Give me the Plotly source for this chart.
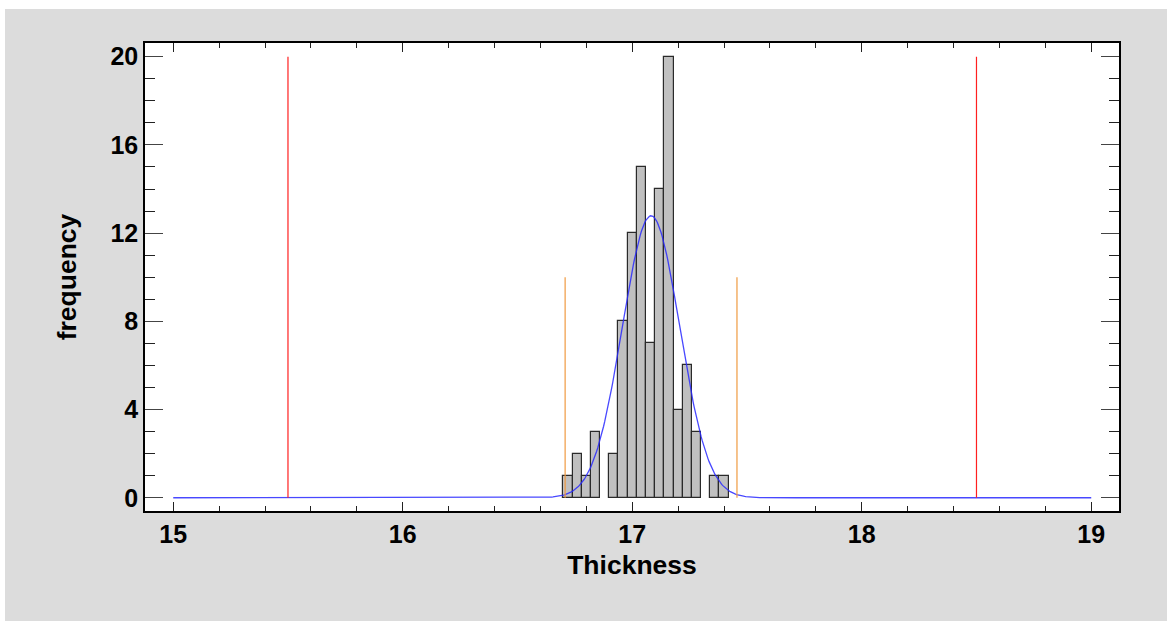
import numpy as np
import plotly.graph_objects as go

# ---- data ----
bin_centers = [16.72, 16.76, 16.80, 16.84, 16.88, 16.92, 16.96, 17.00, 17.04,
               17.08, 17.12, 17.16, 17.20, 17.24, 17.28, 17.32, 17.36, 17.40]
bin_counts = [1, 2, 1, 3, 0, 2, 8, 12, 15, 7, 14, 20, 4, 6, 3, 0, 1, 1]
bin_width = 0.04

fit_mean = 17.082      # fitted normal mean
fit_sigma = 0.1248     # fitted normal sigma
n_obs = 100

spec_limits = [15.5, 18.5]          # red lines
spec_height = 20
ctrl_limits = [fit_mean - 3 * fit_sigma, fit_mean + 3 * fit_sigma]  # orange lines
ctrl_height = 10

x_ticks = [15, 16, 17, 18, 19]
y_ticks = [0, 4, 8, 12, 16, 20]

# ---- figure ----
fig = go.Figure()

bx = [c for c, n in zip(bin_centers, bin_counts) if n > 0]
by = [n for n in bin_counts if n > 0]
fig.add_trace(go.Bar(
    x=bx, y=by, width=bin_width,
    marker=dict(color="#c0c0c0", line=dict(color="#2a2a2a", width=1.2)),
    showlegend=False, hoverinfo="x+y"))

xs = np.linspace(15, 19, 801)
ys = n_obs * bin_width / (fit_sigma * np.sqrt(2 * np.pi)) * np.exp(-0.5 * ((xs - fit_mean) / fit_sigma) ** 2)
fig.add_trace(go.Scatter(x=xs, y=ys, mode="lines",
                         line=dict(color="rgba(40,40,255,0.85)", width=1.3),
                         showlegend=False))

for xv in spec_limits:
    fig.add_trace(go.Scatter(x=[xv, xv], y=[0, spec_height], mode="lines",
                             line=dict(color="#ff2020", width=1.2), showlegend=False))
for xv in ctrl_limits:
    fig.add_trace(go.Scatter(x=[xv, xv], y=[0, ctrl_height], mode="lines",
                             line=dict(color="#f09a40", width=1.2), showlegend=False))

font_family = "Liberation Sans, Arial, sans-serif"

fig.update_layout(
    width=1167, height=621,
    margin=dict(l=145, r=48, t=43, b=110),
    paper_bgcolor="#dcdcdc",
    plot_bgcolor="white",
    bargap=0,
    shapes=[
        dict(type="rect", xref="paper", yref="paper",
             x0=-0.2, x1=(5 - 145) / 974, y0=-0.3, y1=1.2,
             fillcolor="white", line=dict(width=0), layer="above"),
        dict(type="rect", xref="paper", yref="paper",
             x0=-0.2, x1=1.1, y0=1 + (43 - 9) / 468, y1=1.2,
             fillcolor="white", line=dict(width=0), layer="above"),
    ],
    xaxis=dict(
        range=[14.877, 19.121], tickvals=x_ticks, ticks="inside", ticklen=9,
        tickcolor="#222", tickwidth=1.3,
        minor=dict(dtick=0.2, tick0=15, ticks="inside", ticklen=5, tickcolor="#222", tickwidth=1.3),
        showgrid=False, zeroline=False, showline=True, linecolor="black", linewidth=1.5,
        mirror="ticks",
        tickfont=dict(family=font_family, size=25, color="black", weight="bold"),
        title=dict(text="Thickness", standoff=9,
                   font=dict(family=font_family, size=26.5, color="black", weight="bold")),
    ),
    yaxis=dict(
        range=[-0.60, 20.62], tickvals=y_ticks, ticks="inside", ticklen=18,
        tickcolor="#444", tickwidth=1.3,
        minor=dict(dtick=1, tick0=0, ticks="inside", ticklen=10, tickcolor="#222", tickwidth=1.3),
        showgrid=False, zeroline=False, showline=True, linecolor="black", linewidth=1.5,
        mirror="ticks",
        tickfont=dict(family=font_family, size=25, color="black", weight="bold"),
        title=dict(text="frequency", standoff=26,
                   font=dict(family=font_family, size=26.5, color="black", weight="bold")),
    ),
)

fig.write_html("out.html")
